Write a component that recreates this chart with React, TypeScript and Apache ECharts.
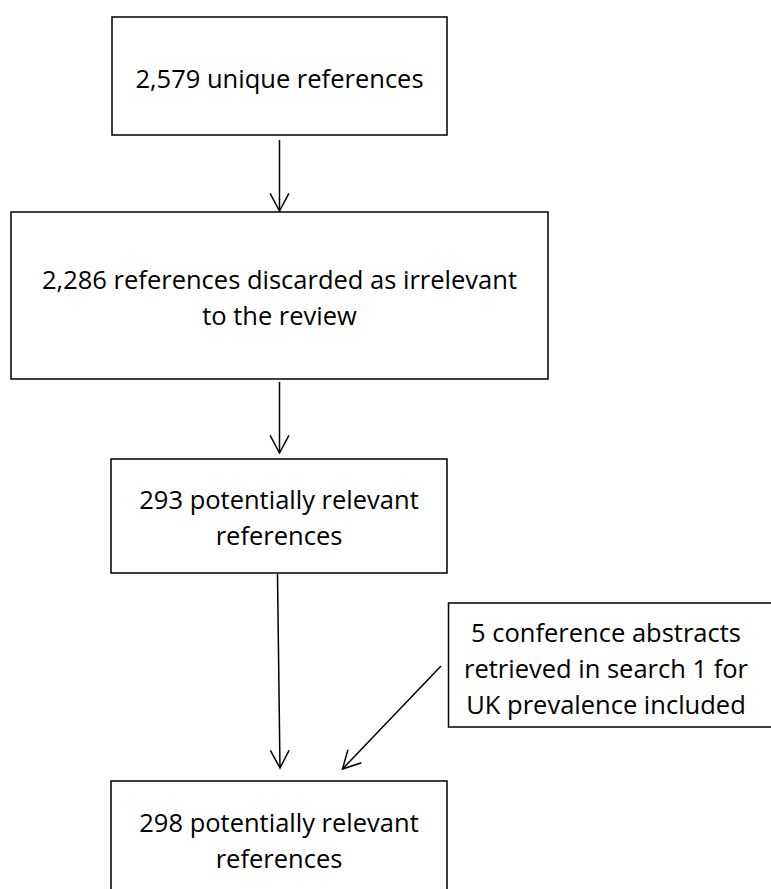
import React, { useEffect, useRef } from "react";
import * as echarts from "echarts";

// ---- data: flow stages (text of each box) ----
const stageCounts = ["2,579", "2,286", "293", "5", "298"];
const stageLines: string[][] = [
  [`${stageCounts[0]} unique references`],
  [`${stageCounts[1]} references discarded as irrelevant`, "to the review"],
  [`${stageCounts[2]} potentially relevant`, "references"],
  [`${stageCounts[3]} conference abstracts`, "retrieved in search 1 for", "UK prevalence included"],
  [`${stageCounts[4]} potentially relevant`, "references"],
];
// arrows: [fromStage, toStage]
const flowLinks: [number, number][] = [
  [0, 1],
  [1, 2],
  [2, 4],
  [3, 4],
];

// ---- layout (pixels) ----
const W = 771;
const H = 889;
const boxes = [
  { x: 112, y: 17, w: 335, h: 118, ty: 78 },
  { x: 11, y: 212, w: 537, h: 167, ty: 279 },
  { x: 111, y: 459, w: 336, h: 114, ty: 499 },
  { x: 448.5, y: 603, w: 340, h: 124, ty: 632, cx: 606 },
  { x: 111, y: 781, w: 336, h: 130, ty: 822 },
];
const arrowGeom: { x1: number; y1: number; x2: number; y2: number }[] = [
  { x1: 279.5, y1: 140, x2: 279.5, y2: 211 },
  { x1: 279.5, y1: 382, x2: 279.5, y2: 453 },
  { x1: 277.5, y1: 574, x2: 280, y2: 768 },
  { x1: 441, y1: 666, x2: 342.5, y2: 769 },
];
const LINE_H = 36;
const FONT = "'Open Sans', 'Liberation Sans', sans-serif";
const FONT_SIZE = 25.5;
const STROKE = "#000";
const LW = 1.5;

function arrowHead(x1: number, y1: number, x2: number, y2: number) {
  const dx = x1 - x2;
  const dy = y1 - y2;
  const len = Math.hypot(dx, dy);
  const ux = dx / len;
  const uy = dy / len;
  const L = 20;
  const a = (28 * Math.PI) / 180;
  const r = (c: number, s: number) => [x2 + L * (ux * c - uy * s), y2 + L * (ux * s + uy * c)];
  const p1 = r(Math.cos(a), Math.sin(a));
  const p2 = r(Math.cos(-a), Math.sin(-a));
  return [p1, [x2, y2], p2];
}

export default function App() {
  const ref = useRef<HTMLDivElement>(null);
  useEffect(() => {
    if (!ref.current) return;
    const chart = echarts.init(ref.current, undefined, { renderer: "svg" });
    const elements: any[] = [];
    boxes.forEach((b, i) => {
      elements.push({
        type: "rect",
        shape: { x: b.x, y: b.y, width: b.w, height: b.h },
        style: { fill: "#fff", stroke: STROKE, lineWidth: LW },
        z: 1,
      });
      const cx = (b as any).cx ?? b.x + b.w / 2;
      stageLines[i].forEach((t, j) => {
        elements.push({
          type: "text",
          x: cx,
          y: b.ty + j * LINE_H,
          style: {
            text: t,
            fill: "#000",
            fontSize: FONT_SIZE,
            fontFamily: FONT,
            align: "center",
            verticalAlign: "middle",
          },
          z: 2,
        });
      });
    });
    flowLinks.forEach((_, k) => {
      const g = arrowGeom[k];
      elements.push({
        type: "line",
        shape: { x1: g.x1, y1: g.y1, x2: g.x2, y2: g.y2 },
        style: { stroke: STROKE, lineWidth: LW },
        z: 3,
      });
      elements.push({
        type: "polyline",
        shape: { points: arrowHead(g.x1, g.y1, g.x2, g.y2) },
        style: { stroke: STROKE, lineWidth: LW, fill: null },
        z: 3,
      });
    });
    chart.setOption({
      animation: false,
      backgroundColor: "#fff",
      graphic: { elements },
    });
    return () => chart.dispose();
  }, []);
  return (
    <div
      ref={ref}
      style={{ position: "absolute", left: 0, top: 0, width: W, height: H, background: "#fff" }}
    />
  );
}
